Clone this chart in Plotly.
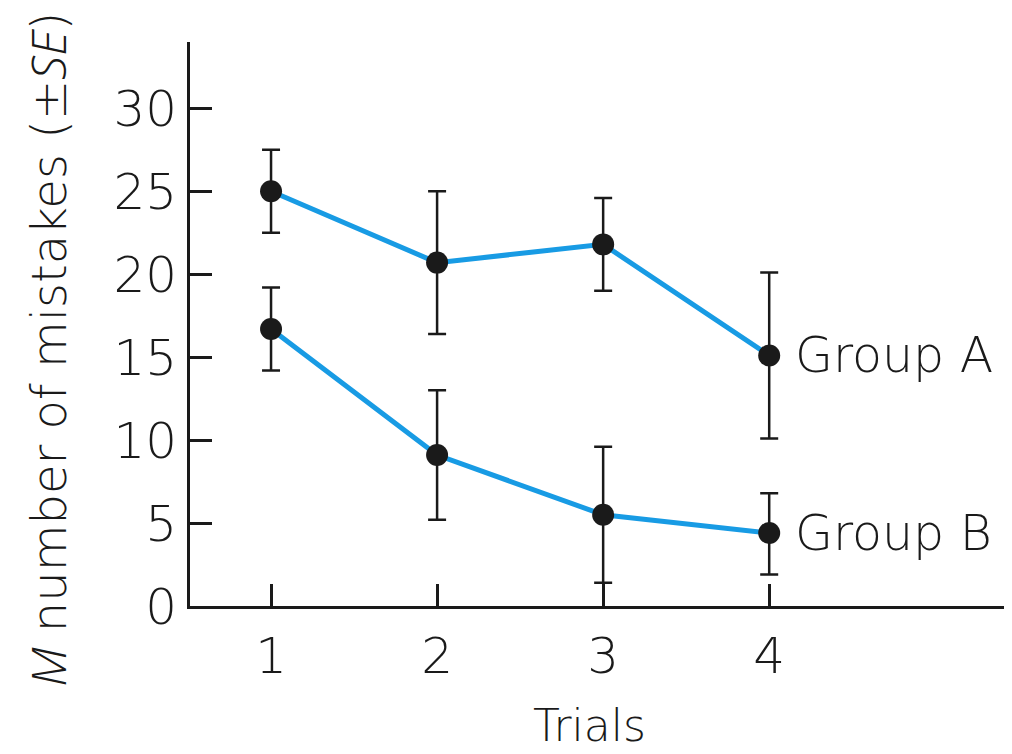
import plotly.graph_objects as go

trials = [1, 2, 3, 4]
group_a_mean = [25.0, 20.7, 21.8, 15.1]
group_a_upper = [27.5, 25.0, 24.6, 20.1]
group_a_lower = [22.5, 16.4, 19.0, 10.1]
group_b_mean = [16.7, 9.1, 5.5, 4.4]
group_b_upper = [19.2, 13.0, 9.6, 6.8]
group_b_lower = [14.2, 5.2, 1.4, 1.9]
y_ticks = [0, 5, 10, 15, 20, 25, 30]

FONT = "DejaVu Sans"
WEIGHT = 200
BLUE = "#189be4"
INK = "#1a1a1a"

fig = go.Figure()

for name, mean, up, lo in [("Group A", group_a_mean, group_a_upper, group_a_lower),
                           ("Group B", group_b_mean, group_b_upper, group_b_lower)]:
    fig.add_trace(go.Scatter(
        x=trials, y=mean, mode="lines", line=dict(color=BLUE, width=5),
        showlegend=False, hoverinfo="skip"))
    fig.add_trace(go.Scatter(
        x=trials, y=mean, mode="markers", name=name,
        marker=dict(color=INK, size=22),
        error_y=dict(type="data", symmetric=False,
                     array=[u - m for u, m in zip(up, mean)],
                     arrayminus=[m - l for m, l in zip(mean, lo)],
                     color=INK, thickness=2.5, width=9),
        showlegend=False))
    fig.add_annotation(x=trials[-1], y=mean[-1], text=name, xref="x", yref="y",
                       xanchor="left", yanchor="middle", xshift=24, showarrow=False,
                       font=dict(family=FONT, size=49, color=INK, weight=WEIGHT))

ital = '<span style="font-family:\'Open Sans\';font-style:italic;font-weight:300">{}</span>'
fig.add_annotation(x=-0.175, y=0.455, xref="paper", yref="paper", textangle=-90,
                   text=ital.format("M") + " number of mistakes (±" + ital.format("SE") + ")",
                   showarrow=False, xanchor="center", yanchor="middle",
                   font=dict(family=FONT, size=48, color=INK, weight=WEIGHT))
fig.add_annotation(x=0.49, y=-0.212, xref="paper", yref="paper",
                   text="Trials", showarrow=False, xanchor="center", yanchor="middle",
                   font=dict(family=FONT, size=44, color=INK, weight=WEIGHT))

fig.update_xaxes(range=[0.512, 5.42], tickvals=trials, ticks="inside", ticklen=22,
                 tickwidth=2.5, tickcolor=INK, showline=True, linecolor=INK, linewidth=3,
                 showgrid=False, zeroline=False, ticklabelstandoff=4,
                 tickfont=dict(family=FONT, size=50, color=INK, weight=WEIGHT))
fig.update_yaxes(range=[0, 34], tickvals=y_ticks, ticks="inside", ticklen=22,
                 tickwidth=2.5, tickcolor=INK, showline=True, linecolor=INK, linewidth=3,
                 showgrid=False, zeroline=False, ticklabelstandoff=0,
                 tickfont=dict(family=FONT, size=50, color=INK, weight=WEIGHT))

# page body has an 8px default margin, so the figure is sized/offset to compensate
fig.update_layout(width=1004, height=746, plot_bgcolor="white", paper_bgcolor="white",
                  margin=dict(l=182, r=7, t=34, b=148))

fig.write_html("out.html")
